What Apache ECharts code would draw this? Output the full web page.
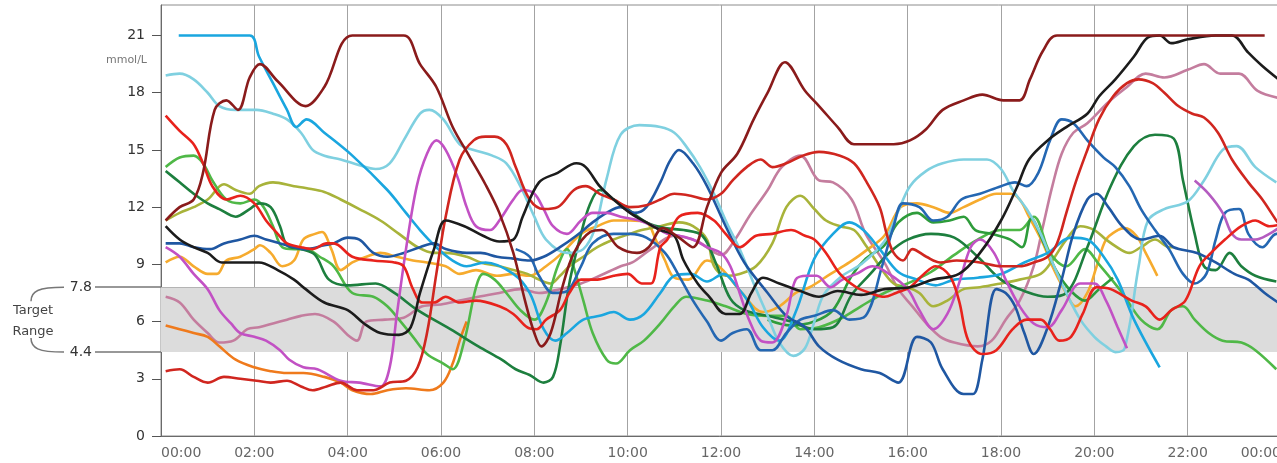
<!DOCTYPE html>
<html><head><meta charset="utf-8">
<script src="https://cdn.jsdelivr.net/npm/echarts@6/dist/echarts.min.js"></script>
<style>html,body{margin:0;padding:0;background:#fff;overflow:hidden}#c{width:1277px;height:463px}</style>
</head><body><div id="c"></div>
<script>
// ---- tick labels / axis values ----
const hourTickLabels = ['00:00','02:00','04:00','06:00','08:00','10:00','12:00','14:00','16:00','18:00','20:00','22:00','00:00'];
const glucoseTicks = [0,3,6,9,12,15,18,21];
const targetBounds = [4.4, 7.8];

// ---- traces: [hour, mmol/L] ----
const maroon = [[0.1,11.3],[0.4,12.0],[0.7,12.4],[0.9,13.8],[1.15,17.1],[1.4,17.6],[1.65,17.1],[1.9,18.8],[2.12,19.5],[2.5,18.6],[3.1,17.3],[3.5,18.3],[4.1,21],[5.2,21],[5.55,19.5],[5.9,18.3],[6.25,16.2],[6.6,14.7],[6.95,13.2],[7.25,11.7],[7.55,9.6],[7.8,7.1],[8.0,5.4],[8.15,4.7],[8.35,5.4],[8.6,7.8],[8.85,9.6],[9.2,10.7],[9.45,10.8],[9.8,9.9],[10.2,9.6],[10.45,9.9],[10.75,10.9],[11.1,10.4],[11.4,9.9],[11.7,12.0],[12.0,13.8],[12.35,14.8],[12.7,16.6],[13.0,18.0],[13.37,19.6],[13.8,18.1],[14.1,17.3],[14.5,16.2],[14.85,15.3],[15.2,15.3],[15.7,15.3],[16.05,15.5],[16.4,16.1],[16.75,17.1],[17.2,17.6],[17.6,17.9],[18.05,17.6],[18.4,17.6],[18.62,18.7],[18.9,20.2],[19.2,21],[23.65,21]];
const black = [[0.1,11.0],[0.4,10.3],[0.7,9.9],[1.0,9.6],[1.3,9.1],[1.7,9.1],[2.1,9.1],[2.5,8.7],[2.85,8.2],[3.1,7.7],[3.5,7.0],[4.0,6.6],[4.35,5.9],[4.7,5.4],[5.1,5.3],[5.35,5.7],[5.55,7.5],[5.85,9.8],[6.1,11.3],[6.5,11.0],[6.9,10.5],[7.25,10.2],[7.55,10.3],[7.75,11.5],[8.1,13.3],[8.5,13.8],[8.9,14.3],[9.1,14.1],[9.4,13.1],[9.7,12.4],[10.05,11.7],[10.4,11.2],[10.7,10.8],[11.0,10.5],[11.2,9.2],[11.5,8.0],[11.75,7.3],[12.1,6.4],[12.4,6.4],[12.65,7.5],[12.9,8.3],[13.25,8.0],[13.7,7.6],[14.1,7.3],[14.5,7.6],[15.0,7.4],[15.5,7.7],[16.05,7.8],[16.55,8.2],[17.1,8.5],[17.55,9.6],[18.0,11.3],[18.35,13.1],[18.6,14.5],[19.0,15.5],[19.4,16.2],[19.85,16.9],[20.1,17.8],[20.45,18.7],[20.85,19.9],[21.15,20.9],[21.4,21.0],[21.65,20.6],[22.0,20.8],[22.6,21.0],[22.95,21.0],[23.3,20.1],[23.6,19.4],[24,18.6]];
const cyan = [[0.38,21],[1.9,21],[2.1,19.9],[2.4,18.5],[2.7,17.1],[2.9,16.2],[3.12,16.6],[3.5,15.9],[4.1,14.7],[4.85,12.9],[5.25,11.7],[5.55,10.8],[5.9,9.9],[6.25,9.2],[6.55,8.9],[6.95,9.1],[7.55,8.5],[7.9,7.5],[8.2,5.6],[8.45,5.0],[8.7,5.4],[9.05,6.1],[9.4,6.3],[9.7,6.5],[10.05,6.1],[10.35,6.4],[10.7,7.5],[11.0,8.4],[11.35,8.5],[11.7,8.1],[12.05,8.5],[12.35,7.8],[12.6,7.0],[12.9,5.7],[13.25,5.0],[13.6,6.5],[14.0,9.3],[14.4,10.6],[14.75,11.2],[15.05,10.8],[15.4,9.8],[15.8,8.6],[16.2,8.2],[16.6,7.9],[17.0,8.2],[17.5,8.3],[18.0,8.5],[18.5,9.1],[19.0,9.6],[19.5,10.4],[19.85,10.3],[20.2,9.4],[20.5,8.2],[20.85,6.1],[21.4,3.6]];
const paleCyan = [[0.1,18.9],[0.4,19.0],[0.7,18.7],[1.0,18.0],[1.25,17.3],[1.6,17.1],[2.05,17.1],[2.4,16.9],[2.7,16.6],[3.0,15.9],[3.25,15.0],[3.5,14.7],[3.85,14.5],[4.25,14.2],[4.6,14.0],[4.9,14.3],[5.2,15.5],[5.55,16.9],[5.75,17.1],[6.05,16.6],[6.4,15.3],[6.7,15.0],[7.1,14.7],[7.4,14.3],[7.7,13.1],[8.0,11.5],[8.25,10.3],[8.7,9.6],[9.05,9.8],[9.3,10.9],[9.55,13.5],[9.85,15.8],[10.25,16.3],[10.7,16.2],[11.0,15.9],[11.25,15.2],[11.55,14.1],[11.85,12.7],[12.1,11.3],[12.4,9.8],[12.7,8.0],[13.0,6.3],[13.25,4.9],[13.55,4.2],[13.8,4.6],[14.0,6.0],[14.2,7.4],[14.6,8.4],[15.0,9.0],[15.5,10.2],[15.8,11.8],[16.05,13.1],[16.4,13.9],[16.75,14.3],[17.2,14.5],[17.7,14.5],[18.0,14.0],[18.25,12.9],[18.55,11.9],[18.85,10.6],[19.1,9.1],[19.4,7.5],[19.7,6.1],[20.0,5.2],[20.25,4.7],[20.45,4.4],[20.65,4.6],[20.95,8.9],[21.15,11.3],[21.5,11.9],[22.0,12.3],[22.35,13.4],[22.75,15.0],[23.05,15.2],[23.45,14.1],[23.9,13.3]];
const red1 = [[0.1,16.8],[0.4,16.0],[0.7,15.3],[0.9,14.3],[1.1,13.1],[1.4,12.4],[1.7,12.6],[2.0,12.2],[2.25,11.3],[2.5,10.6],[2.7,10.1],[3.0,9.9],[3.25,9.8],[3.55,10.1],[3.7,10.1],[4.1,9.4],[4.55,9.2],[5.0,9.1],[5.2,8.9],[5.4,7.7],[5.6,7.0],[5.85,7.0],[6.1,7.3],[6.4,7.0],[6.75,7.1],[7.25,6.8],[7.55,6.4],[7.85,5.7],[8.05,5.6],[8.25,6.1],[8.55,6.6],[8.75,7.5],[9.0,8.2],[9.35,8.2],[9.7,8.4],[10.0,8.5],[10.3,8.0],[10.5,8.0],[10.7,9.9],[10.85,10.3],[11.1,11.5],[11.5,11.7],[11.85,11.3],[12.1,10.6],[12.4,9.9],[12.75,10.5],[13.1,10.6],[13.5,10.8],[13.8,10.5],[14.0,10.3],[14.25,9.6],[14.55,8.5],[14.9,7.8],[15.2,7.5],[15.5,7.3],[15.75,7.5],[16.05,7.8],[16.35,8.5],[16.6,8.9],[16.9,8.4],[17.1,7.1],[17.3,5.0],[17.6,4.3],[17.9,4.5],[18.25,5.6],[18.55,6.1],[18.85,6.1],[19.05,5.6],[19.25,5.0],[19.5,5.2],[19.75,6.4],[20.05,7.8],[20.35,7.7],[20.8,7.1],[21.1,6.8],[21.4,6.1],[21.65,6.6],[21.95,7.1],[22.25,8.9],[22.5,9.6],[22.8,10.3],[23.15,11.0],[23.45,11.3],[23.75,11.0],[24,11.1]];
const red2 = [[0.1,3.4],[0.4,3.5],[0.7,3.1],[1.0,2.8],[1.35,3.1],[1.7,3.0],[2.05,2.9],[2.35,2.8],[2.7,2.9],[3.0,2.6],[3.25,2.4],[3.55,2.6],[3.85,2.8],[4.2,2.4],[4.55,2.4],[4.9,2.8],[5.25,2.9],[5.5,3.6],[5.7,5.4],[5.9,8.5],[6.1,11.5],[6.4,14.5],[6.7,15.5],[6.95,15.7],[7.15,15.7],[7.4,15.3],[7.6,14.1],[7.9,12.4],[8.2,11.9],[8.5,12.0],[8.85,12.9],[9.1,13.1],[9.4,12.7],[9.7,12.4],[10.05,12.0],[10.4,12.1],[10.7,12.4],[11.0,12.7],[11.35,12.6],[11.7,12.4],[12.0,12.7],[12.25,13.4],[12.55,14.1],[12.85,14.5],[13.1,14.1],[13.4,14.3],[13.75,14.7],[14.1,14.9],[14.55,14.7],[14.85,14.3],[15.1,13.4],[15.4,12.0],[15.55,10.6],[15.7,9.6],[15.9,9.2],[16.1,9.8],[16.4,9.4],[16.7,9.1],[17.05,9.2],[17.55,9.1],[18.0,8.9],[18.4,8.9],[18.7,9.1],[19.0,9.4],[19.2,10.1],[19.4,11.7],[19.6,13.3],[19.85,15.0],[20.1,16.6],[20.4,17.8],[20.7,18.5],[20.95,18.7],[21.25,18.5],[21.5,18.0],[21.8,17.3],[22.1,16.9],[22.35,16.7],[22.65,15.9],[22.95,14.5],[23.3,13.3],[23.6,12.4],[23.9,11.3],[24,11.0]];
const orange = [[0.1,5.8],[0.4,5.6],[0.7,5.4],[1.0,5.2],[1.25,4.7],[1.6,4.0],[2.0,3.6],[2.35,3.4],[2.7,3.3],[3.05,3.3],[3.5,3.1],[3.85,2.8],[4.1,2.4],[4.5,2.2],[4.85,2.4],[5.25,2.5],[5.75,2.4],[6.05,2.8],[6.25,3.8],[6.4,5.0],[6.55,6.0]];
const yellowOrange = [[0.1,9.1],[0.4,9.4],[0.7,8.9],[1.0,8.5],[1.2,8.5],[1.4,9.2],[1.7,9.4],[2.0,9.8],[2.12,10.0],[2.35,9.6],[2.6,8.9],[2.85,9.2],[3.05,10.3],[3.3,10.6],[3.45,10.7],[3.65,9.8],[3.85,8.7],[4.1,9.1],[4.4,9.4],[4.7,9.6],[5.05,9.4],[5.4,9.2],[5.7,9.1],[6.1,8.9],[6.4,8.5],[6.75,8.7],[7.2,8.4],[7.55,8.5],[7.9,8.4],[8.25,8.9],[8.6,9.6],[9.0,10.6],[9.35,11.0],[9.7,11.3],[10.05,11.3],[10.4,11.2],[10.6,10.3],[10.8,9.2],[11.0,8.3],[11.3,8.2],[11.7,9.2],[12.0,8.8],[12.45,7.5],[12.9,6.5],[13.25,6.8],[13.6,7.5],[13.9,7.8],[14.35,8.5],[14.75,9.1],[15.15,9.8],[15.5,10.5],[15.85,12.0],[16.2,12.2],[16.55,12.0],[16.9,11.7],[17.2,12.0],[17.55,12.4],[17.9,12.7],[18.2,12.7],[18.4,12.4],[18.6,11.5],[18.9,10.1],[19.1,8.9],[19.35,7.7],[19.6,6.8],[19.85,7.5],[20.05,8.9],[20.25,10.3],[20.5,10.8],[20.65,10.9],[20.9,10.5],[21.1,9.6],[21.35,8.4]];
const olive = [[0.1,11.3],[0.4,11.7],[0.7,12.0],[1.0,12.4],[1.35,13.2],[1.6,12.9],[1.9,12.7],[2.1,13.1],[2.4,13.3],[2.85,13.1],[3.1,13.0],[3.5,12.8],[3.85,12.4],[4.25,11.9],[4.7,11.3],[5.1,10.6],[5.5,9.9],[5.85,9.6],[6.1,9.6],[6.55,9.4],[6.85,9.1],[7.25,8.9],[7.55,8.7],[7.85,8.5],[8.1,8.2],[8.35,8.0],[8.55,8.4],[8.75,8.9],[9.05,9.4],[9.35,9.9],[9.7,10.3],[10.05,10.6],[10.3,10.8],[10.7,11.0],[11.1,11.2],[11.4,11.0],[11.7,10.3],[11.85,8.9],[12.1,8.4],[12.4,8.5],[12.75,8.9],[13.1,10.1],[13.4,12.0],[13.7,12.6],[14.0,11.9],[14.25,11.3],[14.55,11.0],[14.85,10.8],[15.1,10.0],[15.4,8.9],[15.7,8.0],[16.0,7.8],[16.25,7.5],[16.55,6.8],[16.85,7.1],[17.2,7.7],[17.55,7.8],[18.0,8.0],[18.4,8.2],[18.85,8.5],[19.1,9.2],[19.4,10.3],[19.7,11.0],[20.0,10.8],[20.25,10.3],[20.55,9.8],[20.75,9.6],[21.0,9.9],[21.3,10.3],[21.6,9.9],[21.7,9.9]];
const lightGreen = [[0.1,14.1],[0.4,14.6],[0.7,14.7],[0.9,14.3],[1.1,13.4],[1.4,12.4],[1.7,12.2],[2.0,12.4],[2.2,12.0],[2.4,11.0],[2.6,9.9],[2.85,9.8],[3.1,9.8],[3.4,9.4],[3.7,8.9],[4.1,7.5],[4.55,7.3],[4.85,6.8],[5.1,6.1],[5.4,5.2],[5.7,4.3],[6.05,3.8],[6.25,3.5],[6.5,5.0],[6.75,7.8],[6.9,8.5],[7.15,8.2],[7.4,7.5],[7.7,6.6],[8.0,6.1],[8.25,7.0],[8.5,8.9],[8.7,9.8],[8.85,8.8],[9.05,7.1],[9.25,5.4],[9.55,4.0],[9.75,3.8],[10.05,4.5],[10.35,5.0],[10.7,5.9],[11.0,6.8],[11.25,7.3],[11.7,7.1],[12.1,6.8],[12.55,6.4],[13.0,6.3],[13.4,6.3],[13.7,5.6],[14.1,5.7],[14.6,6.2],[15.0,6.8],[15.5,7.5],[16.0,8.0],[16.5,8.6],[17.0,9.5],[17.5,10.3],[18.0,10.8],[18.4,10.8],[18.7,11.5],[19.05,9.6],[19.4,8.9],[19.8,9.8],[20.1,9.0],[20.6,7.5],[21.0,6.1],[21.35,5.6],[21.65,6.6],[21.9,6.8],[22.15,6.1],[22.45,5.4],[22.75,5.0],[23.15,4.9],[23.45,4.5],[23.9,3.5]];
const darkGreen = [[0.1,13.9],[0.4,13.3],[0.7,12.7],[1.0,12.2],[1.25,11.9],[1.6,11.5],[1.9,11.9],[2.1,12.2],[2.35,12.0],[2.55,11.0],[2.7,10.0],[3.0,9.8],[3.3,9.5],[3.6,8.2],[4.0,7.9],[4.6,8.0],[5.0,7.5],[5.5,6.6],[6.2,5.6],[6.8,4.7],[7.3,4.0],[7.6,3.5],[7.9,3.2],[8.2,2.8],[8.4,3.1],[8.55,4.7],[8.75,8.0],[9.0,10.6],[9.2,12.2],[9.4,12.9],[9.7,12.4],[10.0,11.9],[10.4,11.2],[10.8,10.9],[11.2,10.8],[11.6,10.5],[11.9,9.0],[12.2,7.2],[12.5,6.6],[13.0,6.3],[13.5,6.0],[14.0,5.6],[14.4,5.7],[14.8,7.4],[15.2,8.5],[15.6,9.6],[16.0,10.3],[16.5,10.6],[17.0,10.4],[17.5,9.4],[18.0,8.2],[18.5,7.6],[19.0,7.3],[19.4,7.5],[19.85,9.9],[20.35,13.1],[20.85,15.2],[21.3,15.8],[21.7,15.6],[21.9,13.4],[22.15,10.6],[22.35,8.9],[22.6,8.7],[22.9,9.6],[23.15,8.9],[23.45,8.4],[23.9,8.1]];
const green = [[13.0,6.1],[13.5,5.8],[14.0,6.0],[14.4,6.6],[14.8,8.4],[15.1,9.3],[15.5,10.0],[15.8,11.2],[16.2,11.7],[16.55,11.2],[16.9,11.3],[17.2,11.5],[17.45,10.8],[17.8,10.6],[18.2,10.3],[18.45,9.9],[18.65,11.4],[18.9,10.2],[19.2,8.6],[19.5,7.6],[19.8,7.1],[20.1,7.7],[20.4,8.3]];
const blue1 = [[0.1,10.1],[0.4,10.1],[0.7,9.9],[1.05,9.8],[1.35,10.1],[1.7,10.3],[2.0,10.5],[2.25,10.3],[2.55,10.1],[2.85,9.9],[3.1,9.8],[3.5,10.0],[3.7,10.1],[4.0,10.4],[4.25,10.3],[4.55,9.6],[4.85,9.4],[5.2,9.6],[5.55,9.9],[5.85,10.1],[6.1,9.8],[6.55,9.6],[6.85,9.6],[7.2,9.4],[7.55,9.3],[7.9,9.2],[8.2,9.4],[8.55,9.9],[8.9,10.5],[9.25,11.2],[9.55,11.7],[9.85,12.0],[10.15,11.7],[10.4,12.0],[10.7,13.3],[10.9,14.4],[11.1,15.0],[11.4,14.3],[11.7,13.1],[12.1,11.0],[12.5,9.1],[13.0,7.5],[13.4,6.3],[13.8,5.7],[14.1,4.7],[14.5,4.0],[15.0,3.5],[15.4,3.3],[15.8,2.8],[16.2,5.2],[16.5,4.9],[16.75,3.5],[17.2,2.2],[17.4,2.2],[17.6,4.0],[17.9,7.7],[18.1,7.5],[18.3,6.8],[18.5,5.4],[18.7,4.3],[19.0,5.7],[19.3,8.2],[19.55,10.6],[19.85,12.4],[20.05,12.7],[20.3,12.0],[20.6,11.0],[21.0,10.3],[21.4,10.5],[21.7,9.9],[22.2,9.6],[22.6,9.1],[23.0,8.5],[23.3,8.2],[23.65,7.5],[24,6.9]];
const blue2 = [[7.6,9.8],[7.9,9.4],[8.1,8.4],[8.4,7.5],[8.7,7.6],[9.0,8.9],[9.25,10.1],[9.7,10.6],[10.05,10.6],[10.4,10.4],[10.8,9.6],[11.1,8.4],[11.4,7.1],[11.7,6.0],[12.0,5.0],[12.25,5.4],[12.55,5.6],[12.85,4.5],[13.1,4.5],[13.4,5.4],[13.7,6.1],[14.0,6.3],[14.4,6.6],[14.75,6.1],[15.1,6.3],[15.45,8.9],[15.7,11.0],[15.9,12.2],[16.25,12.0],[16.55,11.3],[16.85,11.5],[17.15,12.4],[17.55,12.7],[18.0,13.1],[18.3,13.3],[18.55,13.1],[18.8,13.8],[19.05,15.5],[19.3,16.6],[19.55,16.4],[19.85,15.5],[20.2,14.6],[20.45,14.1],[20.75,13.1],[21.0,11.9],[21.3,10.8],[21.6,9.8],[21.9,8.5],[22.15,8.0],[22.4,8.5],[22.6,10.3],[22.8,11.7],[23.1,11.9],[23.3,10.6],[23.6,9.9],[23.9,10.6],[24,10.5]];
const magenta = [[0.1,9.9],[0.4,9.4],[0.7,8.5],[1.0,7.7],[1.25,6.6],[1.5,5.9],[1.7,5.4],[2.0,5.2],[2.25,5.0],[2.55,4.5],[2.75,4.0],[3.05,3.6],[3.35,3.5],[3.85,2.9],[4.25,2.8],[4.7,2.6],[4.9,3.6],[5.05,6.3],[5.25,9.8],[5.48,13.1],[5.7,14.8],[5.9,15.5],[6.1,15.0],[6.35,13.6],[6.55,12.0],[6.75,11.0],[7.05,10.8],[7.25,11.3],[7.55,12.4],[7.75,12.9],[8.0,12.7],[8.2,11.9],[8.4,11.0],[8.7,10.6],[9.0,11.3],[9.25,11.7],[9.55,11.7],[9.85,11.5],[10.25,11.3],[10.55,11.0],[10.85,10.6],[11.1,10.5],[11.4,10.3],[11.7,9.9],[12.0,9.6],[12.2,8.9],[12.4,7.5],[12.6,6.1],[12.85,5.0],[13.1,4.9],[13.4,6.3],[13.6,8.2],[13.85,8.4],[14.05,8.4],[14.35,7.8],[14.6,8.2],[14.9,8.5],[15.25,8.9],[15.6,8.5],[16.0,7.7],[16.25,6.6],[16.55,5.6],[16.85,6.4],[17.1,8.0],[17.35,9.9],[17.55,10.3],[17.85,9.6],[18.1,8.2],[18.4,6.8],[18.7,5.9],[19.0,5.7],[19.3,6.6],[19.7,8.0],[20.0,8.0],[20.25,7.1],[20.5,5.7],[20.7,4.6]];
const mauve = [[0.1,7.3],[0.4,7.0],[0.7,6.1],[1.0,5.4],[1.25,4.9],[1.55,5.0],[1.85,5.6],[2.1,5.7],[2.4,5.9],[2.7,6.1],[3.0,6.3],[3.3,6.4],[3.7,6.0],[4.0,5.3],[4.2,5.0],[4.4,6.0],[4.8,6.1],[5.2,6.2],[5.6,6.8],[6.0,6.9],[6.4,7.1],[6.8,7.3],[7.25,7.5],[7.7,7.7],[8.1,7.5],[8.55,7.7],[9.0,8.0],[9.4,8.4],[9.85,8.9],[10.1,9.1],[10.5,9.8],[11.0,10.5],[11.5,10.2],[12.0,9.5],[12.3,10.3],[12.6,11.5],[13.0,12.9],[13.3,14.1],[13.7,14.7],[14.1,13.4],[14.4,13.3],[14.8,12.4],[15.1,10.6],[15.5,9.1],[15.8,7.7],[16.1,6.8],[16.4,5.9],[16.7,5.2],[17.0,4.9],[17.5,4.7],[17.8,5.0],[18.1,6.1],[18.4,7.1],[18.7,8.9],[18.9,11.0],[19.1,13.1],[19.3,14.8],[19.55,15.9],[19.85,16.4],[20.3,17.5],[20.7,18.3],[21.1,19.0],[21.5,18.8],[22.0,19.2],[22.35,19.5],[22.7,19.0],[23.1,19.0],[23.5,18.1],[24,17.7]];
const purple = [[22.15,13.4],[22.45,12.7],[22.75,11.7],[22.95,10.6],[23.15,10.3],[23.45,10.3],[23.75,10.6],[24,11.0]];

// ---- styling (kept apart from data) ----
const traces = [
  ['mauve', mauve, '#c47d9e'], ['orange', orange, '#ef7a1c'], ['yellowOrange', yellowOrange, '#f6ab2e'],
  ['olive', olive, '#a8b33a'], ['lightGreen', lightGreen, '#4fb847'], ['green', green, '#2e9c3b'],
  ['darkGreen', darkGreen, '#1d7f3e'], ['paleCyan', paleCyan, '#7fd0e0'], ['cyan', cyan, '#1aa6df'],
  ['blue2', blue2, '#2467b2'], ['blue1', blue1, '#1f57a2'], ['magenta', magenta, '#c251c4'],
  ['purple', purple, '#b45cc0'], ['red2', red2, '#d0261f'], ['red1', red1, '#e8221c'],
  ['black', black, '#1c1c1c'], ['maroon', maroon, '#8a1b1b']
];
const FONT = 'DejaVu Sans';

const chart = echarts.init(document.getElementById('c'), null, {renderer: 'canvas'});

const series = traces.map(([name, data, color], i) => ({
  name, type: 'line', data, smooth: 0.35, showSymbol: false, symbol: 'none',
  lineStyle: {color, width: 2.6}, z: 3, silent: true,
  markArea: i === 0 ? {silent: true, z: 1, itemStyle: {color: '#dcdcdc'},
    data: [[{yAxis: targetBounds[0]}, {yAxis: targetBounds[1]}]]} : undefined,
  markLine: i === 0 ? {silent: true, z: 1, symbol: 'none', label: {show: false},
    lineStyle: {color: '#b4b4b4', width: 1, type: 'solid'},
    data: [{yAxis: targetBounds[1]}]} : undefined
}));

chart.setOption({
  animation: false,
  backgroundColor: '#ffffff',
  grid: {left: 161, width: 1120, top: 5, height: 431, show: true, borderColor: '#8c8c8c', borderWidth: 1,
    outerBoundsMode: 'none', containLabel: false},
  xAxis: {
    type: 'value', min: 0, max: 24, interval: 2,
    axisLine: {show: true, lineStyle: {color: '#6a6a6a', width: 1}},
    axisTick: {show: false},
    splitLine: {show: true, lineStyle: {color: '#a3a3a3', width: 1}},
    axisLabel: {color: '#666', fontFamily: FONT, fontSize: 14, margin: 10,
      alignMinLabel: 'left', alignMaxLabel: 'right',
      formatter: v => hourTickLabels[Math.round(v / 2)]}
  },
  yAxis: [{
    type: 'value', min: 0, max: 22.6, position: 'left',
    axisLine: {show: true, lineStyle: {color: '#6a6a6a', width: 1}},
    axisTick: {show: true, length: 9, customValues: glucoseTicks, lineStyle: {color: '#555'}},
    splitLine: {show: false},
    axisLabel: {customValues: glucoseTicks, color: '#333', fontFamily: FONT, fontSize: 14, margin: 16}
  }, {
    type: 'value', min: 0, max: 22.6, position: 'left', offset: 0,
    axisLine: {show: false},
    axisTick: {show: true, length: 66, customValues: targetBounds, lineStyle: {color: '#777', width: 1.5}},
    splitLine: {show: false},
    axisLabel: {customValues: targetBounds, color: '#333', fontFamily: FONT, fontSize: 14, margin: 69,
      formatter: v => v.toFixed(1)}
  }],
  series
});

// annotations positioned through the y scale
const yHi = chart.convertToPixel({yAxisIndex: 0}, targetBounds[1]);
const yLo = chart.convertToPixel({yAxisIndex: 0}, targetBounds[0]);
const y21 = chart.convertToPixel({yAxisIndex: 0}, 21);
const mid = (yHi + yLo) / 2;
chart.setOption({
  graphic: [
    {type: 'text', x: 147, y: y21 + 25, style: {text: 'mmol/L', fill: '#777', font: '11px "DejaVu Sans"', textAlign: 'right', textVerticalAlign: 'middle'}},
    {type: 'text', x: 33, y: mid - 9, style: {text: 'Target', fill: '#444', font: '13px "DejaVu Sans"', textAlign: 'center', textVerticalAlign: 'middle'}},
    {type: 'text', x: 33, y: mid + 12, style: {text: 'Range', fill: '#444', font: '13px "DejaVu Sans"', textAlign: 'center', textVerticalAlign: 'middle'}},
    {type: 'bezierCurve', shape: {x1: 64, y1: yHi, x2: 31, y2: yHi + 14, cpx1: 38, cpy1: yHi, cpx2: 31, cpy2: yHi + 4},
      style: {stroke: '#777', lineWidth: 1.5, fill: null}},
    {type: 'bezierCurve', shape: {x1: 31, y1: yLo - 14, x2: 64, y2: yLo, cpx1: 31, cpy1: yLo - 4, cpx2: 38, cpy2: yLo},
      style: {stroke: '#777', lineWidth: 1.5, fill: null}}
  ]
});
</script></body></html>
